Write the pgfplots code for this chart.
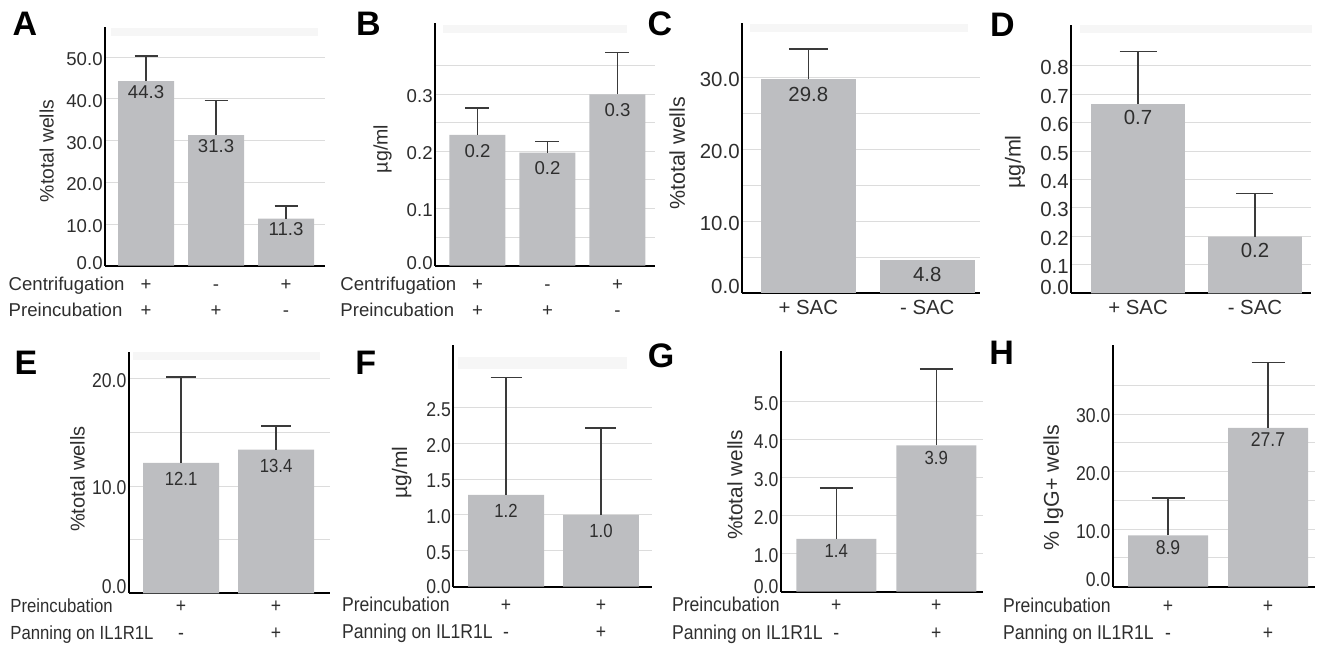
\documentclass[border=0pt]{standalone}
\usepackage{fontspec}
\setmainfont{Liberation Sans}
\newfontfamily\cond[FakeStretch=0.88]{Liberation Sans}
\usepackage{pgfplots}
\pgfplotsset{compat=1.18}
\usepackage{pgfplotstable}
\definecolor{barc}{HTML}{BDBEC1}
\definecolor{gridc}{HTML}{DCDCDC}
\definecolor{txt}{HTML}{2E2E2E}
\definecolor{errc}{HTML}{3A3A3A}
\definecolor{band}{HTML}{F6F6F6}
\newcommand\fa{\fontsize{9.3}{11}\selectfont}
\newcommand\fc{\fontsize{10.2}{12}\selectfont}
\newcommand\fe{\cond\fontsize{10}{12}\selectfont}
\newcommand\fev{\cond\fontsize{9.5}{11}\selectfont}
\newcommand\zr[1]{\raisebox{#1}{0.0}}
\pgfplotsset{
  panel/.style={
    scale only axis, anchor=south west, clip=false,
    axis x line*=bottom, axis y line*=left,
    set layers,
    axis line style={line width=1pt, black, -, on layer=axis foreground},
    ybar, bar shift=0pt, bar width=0.8,
    ymin=0,
    major tick length=0pt, minor tick length=0pt,
    ymajorgrids, yminorgrids,
    major grid style={line width=0.5pt, draw=gridc},
    minor grid style={line width=0.5pt, draw=gridc},
    tick label style={text=txt},
    yticklabel style={inner sep=1pt, yshift=-1pt},
    xticklabel style={anchor=base, inner sep=0pt},
    nodes near coords, point meta=explicit symbolic,
    nodes near coords align={anchor=north},
    every node near coord/.append style={inner sep=0pt, text=txt},
    ylabel style={anchor=center, text=txt},
  },
  errb/.style={error bars/.cd, y dir=plus, y explicit,
    error bar style={line width=0.7pt, draw=errc},
    error mark options={rotate=90, line width=0.7pt, draw=errc, mark size=#1}},
}
\pgfplotstableread{
x y e lab
0 44.3 6.0 44.3
1 31.3 8.4 31.3
2 11.3 3.0 11.3
}\tA
\pgfplotstableread{
x y e lab
0 0.229 0.047 0.2
1 0.198 0.019 0.2
2 0.300 0.073 0.3
}\tB
\pgfplotstableread{
x y e lab
0 29.8 4.2 29.8
}\tCa
\pgfplotstableread{
x y lab
1 4.7 4.8
}\tCb
\pgfplotstableread{
x y e lab
0 0.665 0.184 0.7
1 0.199 0.152 0.2
}\tD
\pgfplotstableread{
x y e lab
0 12.15 8.0 12.1
1 13.4 2.2 13.4
}\tE
\pgfplotstableread{
x y e lab
0 1.28 1.64 1.2
1 1.00 1.21 1.0
}\tF
\pgfplotstableread{
x y e lab
0 1.39 1.34 1.4
1 3.85 2.01 3.9
}\tG
\pgfplotstableread{
x y e lab
0 8.9 6.5 8.9
1 27.6 11.4 27.7
}\tH
\begin{document}
\begin{tikzpicture}
% ---------------- A
\begin{axis}[panel, at={(52.5pt,190.65pt)}, width=110pt, height=119.35pt,
  xmin=-0.586, xmax=2.557, ymax=57.27,
  xtick={0,1,2}, xticklabels={+,-,+},
  extra x ticks={0,1,2}, extra x tick labels={+,+,-},
  xticklabel style={yshift=-12.4pt},
  extra x tick style={xticklabel style={yshift=-13.25pt}},
  ytick={0,10,20,30,40,50}, yticklabels={\zr{4.7pt},10.0,20.0,30.0,40.0,50.0},
  tick label style={font=\fa},
  ylabel={\%total wells}, ylabel style={font=\fontsize{9.7}{11}\selectfont, at={(axis description cs:-0.265,0.481)}},
  every node near coord/.append style={font=\fa, yshift=-2pt},
]
\draw[band, line width=4pt] (axis cs:-0.504,56) -- (axis cs:2.461,56);
\addplot[fill=barc, draw=none, errb=5.75pt] table[x=x, y=y, y error plus=e, meta=lab] {\tA};
\end{axis}
% ---------------- B
\begin{axis}[panel, at={(217.5pt,190.65pt)}, width=110pt, height=121.35pt,
  xmin=-0.607, xmax=2.536, ymax=0.4248,
  xtick={0,1,2}, xticklabels={+,-,+},
  extra x ticks={0,1,2}, extra x tick labels={+,+,-},
  xticklabel style={yshift=-12.4pt},
  extra x tick style={xticklabel style={yshift=-13.25pt}},
  ytick={0,0.1,0.2,0.3}, yticklabels={\zr{4.4pt},0.1,0.2,0.3},
  minor ytick={0.05,0.15,0.25,0.35},
  tick label style={font=\fa},
  ylabel={µg/ml}, ylabel style={font=\fontsize{9.8}{11}\selectfont, at={(axis description cs:-0.238,0.481)}},
  every node near coord/.append style={font=\fa, yshift=-4.5pt},
]
\draw[band, line width=4pt] (axis cs:-0.493,0.414) -- (axis cs:2.136,0.414);
\addplot[fill=barc, draw=none, errb=6pt] table[x=x, y=y, y error plus=e, meta=lab] {\tB};
\end{axis}
% ---------------- C
\begin{axis}[panel, at={(371pt,176.85pt)}, width=119pt, height=135.15pt,
  xmin=-0.557, xmax=1.443, ymax=37.6,
  xtick={0,1}, xticklabels={+ SAC,- SAC},
  xticklabel style={yshift=-10.85pt},
  ytick={0,10,20,30}, yticklabels={\zr{8.6pt},10.0,20.0,30.0},
  minor ytick={5,15,25},
  tick label style={font=\fc},
  ylabel={\%total wells}, ylabel style={font=\fontsize{10.7}{12}\selectfont, at={(axis description cs:-0.272,0.518)}},
  every node near coord/.append style={font=\fc, yshift=-3.8pt},
]
\draw[band, line width=4pt] (axis cs:-0.49,36.9) -- (axis cs:1.342,36.9);
\addplot[fill=barc, draw=none, errb=9.75pt] table[x=x, y=y, y error plus=e, meta=lab] {\tCa};
\addplot[fill=barc, draw=none] table[x=x, y=y, meta=lab] {\tCb};
\end{axis}
% ---------------- D
\begin{axis}[panel, at={(535.5pt,176.85pt)}, width=120pt, height=134.15pt,
  xmin=-0.573, xmax=1.479, ymax=0.943,
  xtick={0,1}, xticklabels={+ SAC,- SAC},
  xticklabel style={yshift=-10.85pt},
  ytick={0,0.1,0.2,0.3,0.4,0.5,0.6,0.7,0.8}, yticklabels={\zr{8pt},0.1,0.2,0.3,0.4,0.5,0.6,0.7,0.8},
  tick label style={font=\fc},
  ylabel={µg/ml}, ylabel style={font=\fontsize{10.8}{12}\selectfont, at={(axis description cs:-0.233,0.49)}},
  every node near coord/.append style={font=\fc, yshift=-3pt},
]
\draw[band, line width=4pt] (axis cs:-0.496,0.93) -- (axis cs:1.487,0.93);
\addplot[fill=barc, draw=none, errb=9.25pt] table[x=x, y=y, y error plus=e, meta=lab] {\tD};
\end{axis}
% ---------------- E
\begin{axis}[panel, at={(64.35pt,26.85pt)}, width=100.65pt, height=120.65pt,
  xmin=-0.551, xmax=1.568, ymax=22.5,
  xtick={0,1}, xticklabels={+,+},
  extra x ticks={0,1}, extra x tick labels={-,+},
  xticklabel style={yshift=-9.7pt},
  extra x tick style={xticklabel style={yshift=-13.3pt}},
  ytick={0,10,20}, yticklabels={\zr{8.6pt},10.0,20.0},
  minor ytick={5,15},
  tick label style={font=\fe},
  ylabel={\%total wells}, ylabel style={font=\fontsize{10}{12}\selectfont, at={(axis description cs:-0.255,0.473)}},
  every node near coord/.append style={font=\fev, yshift=-4.5pt},
]
\draw[band, line width=4pt] (axis cs:-0.505,22.1) -- (axis cs:1.463,22.1);
\addplot[fill=barc, draw=none, errb=7.5pt] table[x=x, y=y, y error plus=e, meta=lab] {\tE};
\end{axis}
% ---------------- F
\begin{axis}[panel, at={(226.65pt,30.15pt)}, width=99.2pt, height=120.85pt,
  xmin=-0.555, xmax=1.534, ymax=3.37,
  xtick={0,1}, xticklabels={+,+},
  extra x ticks={0,1}, extra x tick labels={-,+},
  xticklabel style={yshift=-12.5pt},
  extra x tick style={xticklabel style={yshift=-13.3pt}},
  ytick={0,0.5,1,1.5,2,2.5}, yticklabels={\zr{2pt},0.5,1.0,1.5,2.0,2.5},
  tick label style={font=\fe},
  ylabel={µg/ml}, ylabel style={font=\fontsize{10.5}{12}\selectfont, at={(axis description cs:-0.26,0.472)}},
  every node near coord/.append style={font=\fev, yshift=-4.3pt},
]
\draw[band, line width=6pt] (axis cs:-0.505,3.12) -- (axis cs:1.274,3.12);
\addplot[fill=barc, draw=none, errb=7.75pt] table[x=x, y=y, y error plus=e, meta=lab] {\tF};
\end{axis}
% ---------------- G
\begin{axis}[panel, at={(390.35pt,27.65pt)}, width=101.15pt, height=120.5pt,
  xmin=-0.556, xmax=1.467, ymax=6.34,
  xtick={0,1}, xticklabels={+,+},
  extra x ticks={0,1}, extra x tick labels={-,+},
  xticklabel style={yshift=-10pt},
  extra x tick style={xticklabel style={yshift=-14.15pt}},
  ytick={0,1,2,3,4,5}, yticklabels={\zr{7pt},1.0,2.0,3.0,4.0,5.0},
  tick label style={font=\fe},
  ylabel={\%total wells}, ylabel style={font=\fontsize{10.4}{12}\selectfont, at={(axis description cs:-0.226,0.443)}},
  every node near coord/.append style={font=\fev, yshift=-2.5pt},
]
\addplot[fill=barc, draw=none, errb=8.25pt] table[x=x, y=y, y error plus=e, meta=lab] {\tG};
\end{axis}
% ---------------- H
\begin{axis}[panel, at={(556.35pt,30.15pt)}, width=101.15pt, height=120.85pt,
  xmin=-0.553, xmax=1.47, ymax=42,
  xtick={0,1}, xticklabels={+,+},
  extra x ticks={0,1}, extra x tick labels={-,+},
  xticklabel style={yshift=-13pt},
  extra x tick style={xticklabel style={yshift=-13.65pt}},
  ytick={0,10,20,30}, yticklabels={\zr{9.4pt},10.0,20.0,30.0},
  minor ytick={5,15,25,35},
  tick label style={font=\fe},
  ylabel={\% IgG+ wells}, ylabel style={font=\fontsize{10.7}{12}\selectfont, at={(axis description cs:-0.294,0.41)}},
  every node near coord/.append style={font=\fe, yshift=-2.3pt},
]
\addplot[fill=barc, draw=none, errb=8.25pt] table[x=x, y=y, y error plus=e, meta=lab] {\tH};
\end{axis}
% ---------------- row labels
\begin{scope}[every node/.style={anchor=base west, inner sep=0pt, text=txt}]
\node[font=\fa] at (4.15pt,178.25pt) {Centrifugation};
\node[font=\fa] at (4.15pt,165pt) {Preincubation};
\node[font=\fa] at (170pt,178.25pt) {Centrifugation};
\node[font=\fa] at (170pt,165pt) {Preincubation};
\node[font=\fontsize{9.5}{11}\cond\selectfont] at (5pt,17.15pt) {Preincubation};
\node[font=\fontsize{9.5}{11}\cond\selectfont] at (5pt,3.85pt) {Panning on IL1R1L};
\node[font=\fe] at (170.85pt,17.65pt) {Preincubation};
\node[font=\fe] at (170.85pt,4.35pt) {Panning on IL1R1L};
\node[font=\fe] at (335.85pt,17.65pt) {Preincubation};
\node[font=\fe] at (335.85pt,3.5pt) {Panning on IL1R1L};
\node[font=\fe] at (501.35pt,17.15pt) {Preincubation};
\node[font=\fe] at (501.35pt,3.5pt) {Panning on IL1R1L};
\end{scope}
% ---------------- panel letters
\begin{scope}[every node/.style={anchor=center, inner sep=0pt, font=\fontsize{17}{20}\selectfont\bfseries}]
\node at (12.5pt,311.5pt) {A};
\node at (184.2pt,311.4pt) {B};
\node at (330pt,311.5pt) {C};
\node at (501.25pt,311pt) {D};
\node at (13pt,142pt) {E};
\node at (182.9pt,142.25pt) {F};
\node at (330.5pt,145.6pt) {G};
\node at (500.8pt,147.25pt) {H};
\end{scope}
\pgfresetboundingbox
\path[use as bounding box] (0pt,0pt) rectangle (659pt,323.5pt);
\end{tikzpicture}
\end{document}
